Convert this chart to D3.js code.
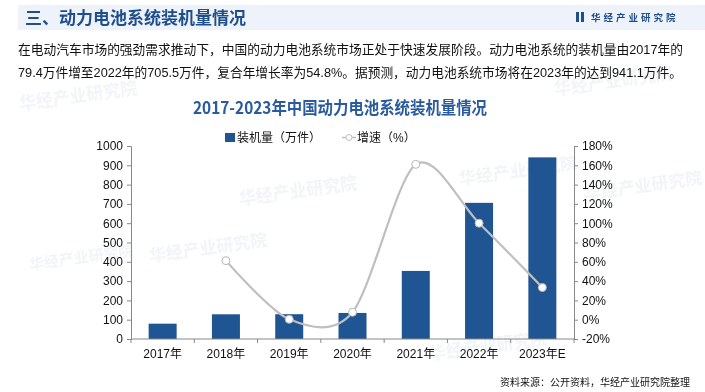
<!DOCTYPE html>
<html><head><meta charset="utf-8">
<script src="https://cdn.jsdelivr.net/npm/d3@7"></script>
<style>
body{margin:0;background:#fff;}
svg{display:block;font-family:"Liberation Sans","Noto Sans CJK SC",sans-serif;}
.cjk{font-family:"Noto Sans CJK SC","Liberation Sans",sans-serif;}
.mix{font-family:"Liberation Sans","Noto Sans CJK SC",sans-serif;}
</style></head>
<body>
<svg id="c" width="705" height="392"></svg>
<script>
const categories = ["2017年","2018年","2019年","2020年","2021年","2022年","2023年E"];
const installed = [79.4, 128, 128.5, 135, 352.7, 705.5, 941.1];
const growth = [null, 61.2, 0.4, 7.7, 161, 100, 33.4];
const leftTicks = [0,100,200,300,400,500,600,700,800,900,1000];
const rightTicks = [-20,0,20,40,60,80,100,120,140,160,180];

const svg = d3.select("#c");
const blue = "#1F5592";

// watermarks
const wm = svg.append("g").attr("class","cjk").attr("fill","#e3e8f0").attr("opacity",0.5);
[[20,110,-8,17],[240,205,-8,17],[430,360,-8,17],[460,185,-8,17],[150,262,-8,17],[585,200,-8,17],[555,95,-8,17],[30,270,-8,15]].forEach(p=>{
  wm.append("text").attr("transform",`translate(${p[0]},${p[1]}) rotate(${p[2]})`)
    .attr("font-size",p[3]).attr("font-weight","bold").text("华经产业研究院");
});

// header band
svg.append("rect").attr("x",18).attr("y",5).attr("width",687).attr("height",25).attr("fill","#eef3fb");
svg.append("text").attr("class","cjk").attr("x",25).attr("y",24).attr("font-size",17).attr("font-weight","bold")
  .attr("fill","#1F4E8C").text("三、动力电池系统装机量情况");
// logo
svg.append("rect").attr("x",576).attr("y",12).attr("width",3).attr("height",10).attr("fill","#1F4E8C");
svg.append("rect").attr("x",581).attr("y",12).attr("width",3).attr("height",10).attr("fill","#1F4E8C");
svg.append("text").attr("class","cjk").attr("x",591).attr("y",21).attr("font-size",9.5).attr("font-weight","bold")
  .attr("letter-spacing",3).attr("fill","#1F4E8C").text("华经产业研究院");

// description
svg.append("text").attr("class","mix").attr("x",18).attr("y",54).attr("font-size",13).attr("fill","#111")
  .attr("textLength",665).attr("lengthAdjust","spacingAndGlyphs")
  .text("在电动汽车市场的强劲需求推动下，中国的动力电池系统市场正处于快速发展阶段。动力电池系统的装机量由2017年的");
svg.append("text").attr("class","mix").attr("x",18).attr("y",77).attr("font-size",13).attr("fill","#111")
  .attr("textLength",664).attr("lengthAdjust","spacingAndGlyphs")
  .text("79.4万件增至2022年的705.5万件，复合年增长率为54.8%。据预测，动力电池系统市场将在2023年的达到941.1万件。");

// chart title
svg.append("text").attr("class","cjk").attr("x",193).attr("y",114)
  .attr("font-size",17).attr("font-weight","bold").attr("fill","#2A5B9E")
  .attr("textLength",294).attr("lengthAdjust","spacingAndGlyphs")
  .text("2017-2023年中国动力电池系统装机量情况");

// legend
svg.append("rect").attr("x",225).attr("y",133).attr("width",10).attr("height",9).attr("fill",blue);
svg.append("text").attr("class","mix").attr("x",237).attr("y",142).attr("font-size",12).attr("fill","#111").text("装机量（万件）");
svg.append("line").attr("x1",342).attr("x2",356).attr("y1",137.5).attr("y2",137.5).attr("stroke","#bfbfbf").attr("stroke-width",1.5);
svg.append("circle").attr("cx",349).attr("cy",137.5).attr("r",3).attr("fill","#fff").attr("stroke","#bfbfbf");
svg.append("text").attr("class","mix").attr("x",357).attr("y",142).attr("font-size",12).attr("fill","#111").text("增速（%）");

const L = 131, R = 574, T = 146, B = 339;
const xc = d3.scaleBand().domain(categories).range([L,R]);
const y = d3.scaleLinear().domain([0,1000]).range([B,T]);
const y2 = d3.scaleLinear().domain([-20,180]).range([B,T]);

// bars
svg.append("g").selectAll("rect").data(installed).join("rect")
  .attr("x",(d,i)=>xc(categories[i])+xc.bandwidth()/2-14)
  .attr("width",28)
  .attr("y",d=>y(d)).attr("height",d=>B-y(d)).attr("fill",blue);

// axes
const axisStyle = g=>{
  g.selectAll("path,line").attr("stroke","#888");
  g.selectAll("text").attr("fill","#111").attr("font-size",12).attr("font-family","Liberation Sans,Noto Sans CJK SC,sans-serif");
};
svg.append("g").attr("transform",`translate(${L},0)`)
  .call(d3.axisLeft(y).tickValues(leftTicks).tickFormat(d3.format("d")).tickSize(4).tickSizeOuter(4).tickPadding(4)).call(axisStyle);
svg.append("g").attr("transform",`translate(${R},0)`)
  .call(d3.axisRight(y2).tickValues(rightTicks).tickFormat(d=>d+"%").tickSize(4).tickSizeOuter(4).tickPadding(4)).call(axisStyle);
const xa = svg.append("g").attr("transform",`translate(0,${B})`)
  .call(d3.axisBottom(xc).tickSize(0).tickPadding(10)).call(axisStyle);
xa.select(".domain").attr("d",`M${L},0H${R}`);
// category boundary ticks
svg.append("g").selectAll("line").data(d3.range(categories.length+1)).join("line")
  .attr("x1",i=>L+i*xc.step()).attr("x2",i=>L+i*xc.step()).attr("y1",B).attr("y2",B+4).attr("stroke","#888");

// growth line
const pts = growth.map((g,i)=>({x:xc(categories[i])+xc.bandwidth()/2, v:g})).filter(d=>d.v!==null);
svg.append("path").datum(pts)
  .attr("d",d3.line().x(d=>d.x).y(d=>y2(d.v)).curve(d3.curveCardinal.tension(0.1)))
  .attr("fill","none").attr("stroke","#bfbfbf").attr("stroke-width",2.2);
svg.append("g").selectAll("circle").data(pts).join("circle")
  .attr("cx",d=>d.x).attr("cy",d=>y2(d.v)).attr("r",4)
  .attr("fill","#fff").attr("stroke","#b5b5b5").attr("stroke-width",1);

// source
svg.append("text").attr("class","mix").attr("x",690).attr("y",386).attr("text-anchor","end")
  .attr("font-size",10).attr("fill","#111").text("资料来源：公开资料，华经产业研究院整理");
</script>
</body></html>
